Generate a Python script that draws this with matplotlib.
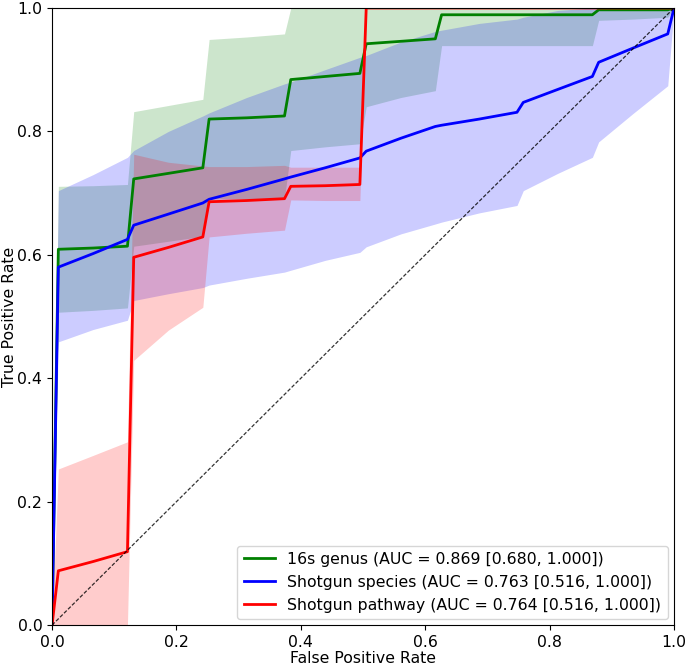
import matplotlib
matplotlib.use("Agg")
import matplotlib.pyplot as plt
import numpy as np

# false positive rate grid
fpr = [0, 0.0101, 0.066, 0.1212, 0.1313, 0.187, 0.2424, 0.2525, 0.313, 0.3737,
       0.3838, 0.439, 0.4949, 0.5051, 0.561, 0.6162, 0.6263, 0.687, 0.7475,
       0.7576, 0.813, 0.8687, 0.8788, 0.934, 0.9899, 1.0]

# 16s genus
genus_tpr = [0, 0.609, 0.611, 0.614, 0.723, 0.732, 0.741, 0.820, 0.822, 0.825,
             0.884, 0.889, 0.894, 0.942, 0.946, 0.950, 0.989, 0.989, 0.989,
             0.989, 0.989, 0.989, 0.997, 0.997, 0.997, 1.0]
genus_upper = [0, 0.711, 0.712, 0.714, 0.832, 0.842, 0.852, 0.949, 0.953, 0.958,
               1.0, 1.0, 1.0, 1.0, 1.0, 1.0, 1.0, 1.0, 1.0,
               1.0, 1.0, 1.0, 1.0, 1.0, 1.0, 1.0]
genus_lower = [0, 0.507, 0.510, 0.514, 0.614, 0.622, 0.630, 0.691, 0.691, 0.692,
               0.769, 0.775, 0.780, 0.840, 0.855, 0.866, 0.939, 0.939, 0.939,
               0.939, 0.939, 0.939, 0.980, 0.982, 0.985, 1.0]

# shotgun species
species_tpr = [0, 0.580, 0.602, 0.625, 0.648, 0.666, 0.684, 0.690, 0.706, 0.723,
               0.726, 0.741, 0.757, 0.768, 0.789, 0.808, 0.810, 0.820, 0.831,
               0.847, 0.868, 0.889, 0.912, 0.935, 0.958, 1.0]
species_upper = [0, 0.704, 0.730, 0.758, 0.769, 0.800, 0.825, 0.830, 0.855, 0.877,
                 0.880, 0.900, 0.920, 0.923, 0.945, 0.962, 0.964, 0.975, 0.982,
                 0.985, 0.996, 1.0, 1.0, 1.0, 1.0, 1.0]
species_lower = [0, 0.459, 0.479, 0.494, 0.526, 0.537, 0.547, 0.551, 0.562, 0.572,
                 0.575, 0.591, 0.604, 0.613, 0.634, 0.650, 0.653, 0.668, 0.680,
                 0.704, 0.732, 0.758, 0.783, 0.829, 0.874, 1.0]

# shotgun pathway
pathway_tpr = [0, 0.088, 0.103, 0.119, 0.596, 0.612, 0.629, 0.686, 0.688, 0.691,
               0.711, 0.712, 0.714, 1.0, 1.0, 1.0, 1.0, 1.0, 1.0,
               1.0, 1.0, 1.0, 1.0, 1.0, 1.0, 1.0]
pathway_upper = [0, 0.253, 0.275, 0.297, 0.763, 0.750, 0.744, 0.743, 0.743, 0.745,
                 0.742, 0.742, 0.742, 1.0, 1.0, 1.0, 1.0, 1.0, 1.0,
                 1.0, 1.0, 1.0, 1.0, 1.0, 1.0, 1.0]
pathway_lower = [0, 0, 0, 0, 0.429, 0.478, 0.515, 0.629, 0.635, 0.640,
                 0.689, 0.688, 0.688, 1.0, 1.0, 1.0, 1.0, 1.0, 1.0,
                 1.0, 1.0, 1.0, 1.0, 1.0, 1.0, 1.0]

labels = ['16s genus (AUC = 0.869 [0.680, 1.000])',
          'Shotgun species (AUC = 0.763 [0.516, 1.000])',
          'Shotgun pathway (AUC = 0.764 [0.516, 1.000])']
colors = ['green', 'b', 'r']


def plot_rocs():
    plt.rcParams['font.size'] = 11.3
    fig = plt.figure(figsize=(6.85, 6.65), dpi=100)
    ax = fig.add_axes([0.076, 0.06, 0.908, 0.928])

    series = [(genus_tpr, genus_lower, genus_upper),
              (species_tpr, species_lower, species_upper),
              (pathway_tpr, pathway_lower, pathway_upper)]

    for (tpr, lo, hi), color, label in zip(series, colors, labels):
        ax.plot(fpr, tpr, color=color, lw=2, label=label)
        ax.fill_between(fpr, lo, hi, color=color, alpha=0.2, lw=0)

    ax.plot([0, 1], [0, 1], linestyle='--', dashes=(3, 1.5), lw=0.9,
            color='k', alpha=0.8)

    ax.set_xlim(0, 1)
    ax.set_ylim(0, 1)
    ax.set_xticks(np.arange(0, 1.01, 0.2))
    ax.set_yticks(np.arange(0, 1.01, 0.2))
    ax.set_xlabel('False Positive Rate', labelpad=1)
    ax.set_ylabel('True Positive Rate')
    ax.yaxis.set_label_coords(-0.056, 0.5)
    ax.legend(loc='lower right', fontsize=11.3, borderaxespad=0.4)

    fig.savefig('out.png', dpi=100)


if __name__ == "__main__":
    plot_rocs()
